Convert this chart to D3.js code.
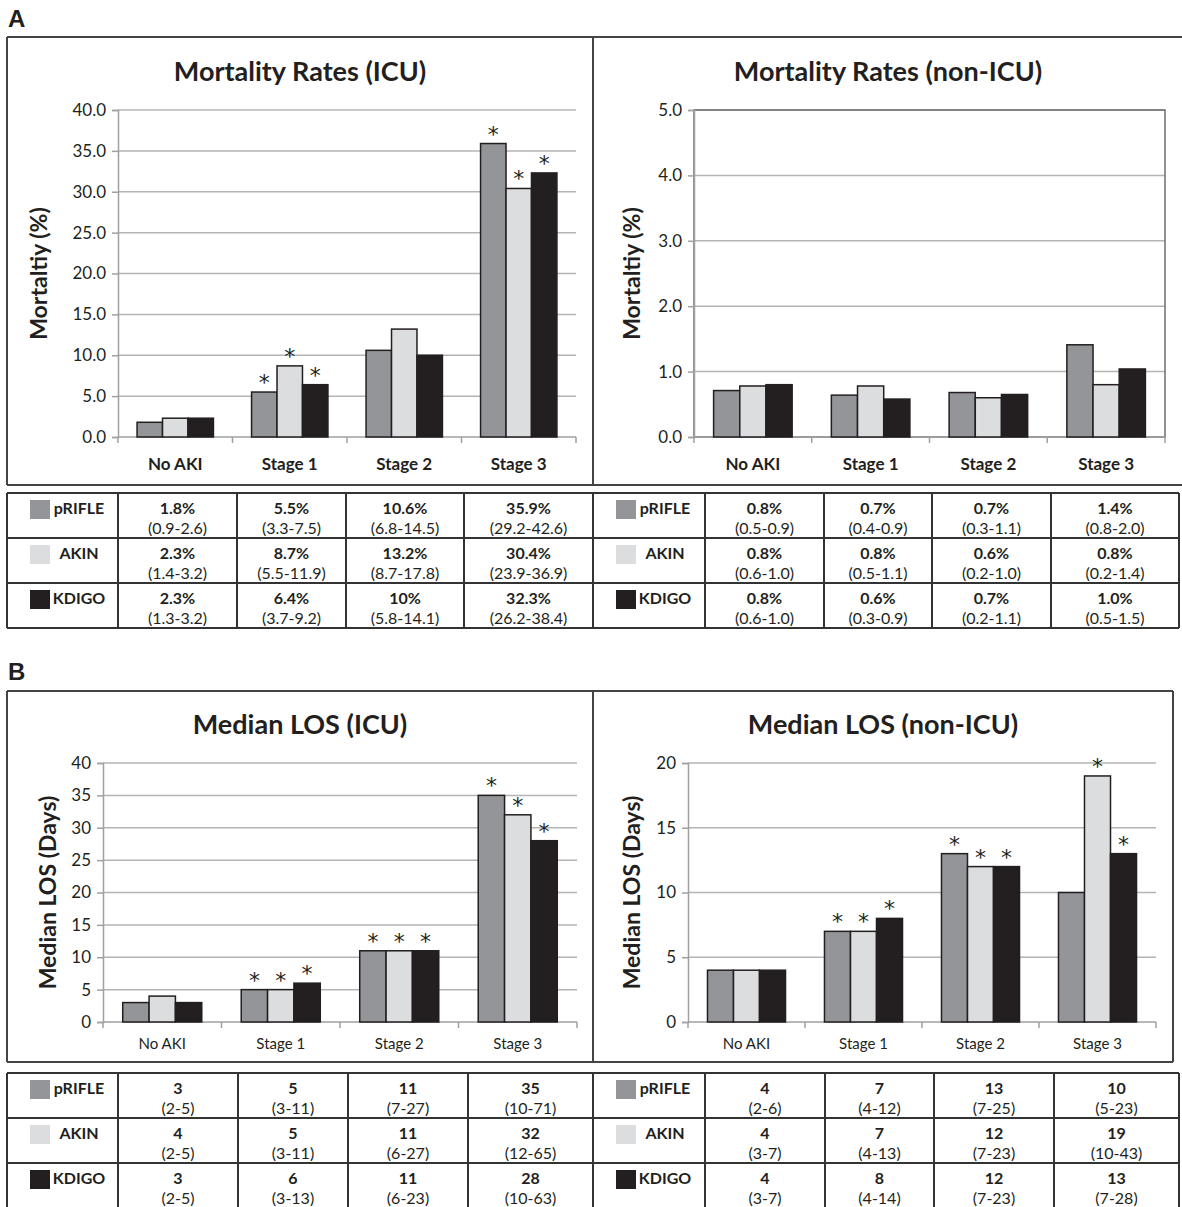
<!DOCTYPE html>
<html><head><meta charset="utf-8">
<script src="https://cdn.jsdelivr.net/npm/d3@7"></script>
<style>
body{margin:0;background:#fff;}
svg{display:block;font-family:Lato,"Open Sans",sans-serif;}
</style></head>
<body><svg id="c" width="1182" height="1207"></svg>
<script>
// ---------- DATA ----------
const categories = ["No AKI","Stage 1","Stage 2","Stage 3"];
const seriesNames = ["pRIFLE","AKIN","KDIGO"];
const seriesColors = ["#939598","#dcdddf","#231f20"];

// Mortality ICU (%)
const mortIcuPrifle = [1.8, 5.5, 10.6, 35.9];
const mortIcuAkin   = [2.3, 8.7, 13.2, 30.4];
const mortIcuKdigo  = [2.3, 6.4, 10.0, 32.3];
const mortIcuStar   = [[0,1,0,1],[0,1,0,1],[0,1,0,1]];
const mortIcuTicks  = [0,5,10,15,20,25,30,35,40];

// Mortality non-ICU (%) (bar heights)
const mortNonPrifle = [0.71, 0.64, 0.68, 1.41];
const mortNonAkin   = [0.78, 0.78, 0.60, 0.80];
const mortNonKdigo  = [0.80, 0.58, 0.65, 1.04];
const mortNonStar   = [[0,0,0,0],[0,0,0,0],[0,0,0,0]];
const mortNonTicks  = [0,1,2,3,4,5];

// Median LOS ICU (days)
const losIcuPrifle = [3, 5, 11, 35];
const losIcuAkin   = [4, 5, 11, 32];
const losIcuKdigo  = [3, 6, 11, 28];
const losIcuStar   = [[0,1,1,1],[0,1,1,1],[0,1,1,1]];
const losIcuTicks  = [0,5,10,15,20,25,30,35,40];

// Median LOS non-ICU (days)
const losNonPrifle = [4, 7, 13, 10];
const losNonAkin   = [4, 7, 12, 19];
const losNonKdigo  = [4, 8, 12, 13];
const losNonStar   = [[0,1,1,0],[0,1,1,1],[0,1,1,1]];
const losNonTicks  = [0,5,10,15,20];

// Table texts
const mortIcuText = [["1.8%","5.5%","10.6%","35.9%"],["2.3%","8.7%","13.2%","30.4%"],["2.3%","6.4%","10%","32.3%"]];
const mortIcuCI   = [["(0.9-2.6)","(3.3-7.5)","(6.8-14.5)","(29.2-42.6)"],["(1.4-3.2)","(5.5-11.9)","(8.7-17.8)","(23.9-36.9)"],["(1.3-3.2)","(3.7-9.2)","(5.8-14.1)","(26.2-38.4)"]];
const mortNonText = [["0.8%","0.7%","0.7%","1.4%"],["0.8%","0.8%","0.6%","0.8%"],["0.8%","0.6%","0.7%","1.0%"]];
const mortNonCI   = [["(0.5-0.9)","(0.4-0.9)","(0.3-1.1)","(0.8-2.0)"],["(0.6-1.0)","(0.5-1.1)","(0.2-1.0)","(0.2-1.4)"],["(0.6-1.0)","(0.3-0.9)","(0.2-1.1)","(0.5-1.5)"]];
const losIcuText  = [["3","5","11","35"],["4","5","11","32"],["3","6","11","28"]];
const losIcuCI    = [["(2-5)","(3-11)","(7-27)","(10-71)"],["(2-5)","(3-11)","(6-27)","(12-65)"],["(2-5)","(3-13)","(6-23)","(10-63)"]];
const losNonText  = [["4","7","13","10"],["4","7","12","19"],["4","8","12","13"]];
const losNonCI    = [["(2-6)","(4-12)","(7-25)","(5-23)"],["(3-7)","(4-13)","(7-23)","(10-43)"],["(3-7)","(4-14)","(7-23)","(7-28)"]];

// ---------- DRAW ----------
const svg = d3.select("#c");
const INK = "#231f20";

function chart(o){
  const g = svg.append("g");
  const x = d3.scaleBand().domain(categories).range([o.x0,o.x1]).paddingInner(0.333).paddingOuter(0.1665);
  const xs = d3.scaleBand().domain(seriesNames).range([0,x.bandwidth()]);
  const y = d3.scaleLinear().domain([0,o.max]).range([o.yb,o.yt]);
  g.append("g").selectAll("line").data(o.ticks.filter(t=>t>0)).join("line")
    .attr("x1",o.x0).attr("x2",o.x1).attr("y1",d=>y(d)).attr("y2",d=>y(d))
    .attr("stroke","#b4b4b4").attr("stroke-width",1.5);
  if(o.box){
    g.append("rect").attr("x",o.x0).attr("y",o.yt).attr("width",o.x1-o.x0).attr("height",o.yb-o.yt)
      .attr("fill","none").attr("stroke","#6d6e71").attr("stroke-width",1.5);
  }
  const ya = d3.axisLeft(y).tickValues(o.ticks).tickSize(6).tickPadding(6).tickFormat(o.fmt);
  const yg = g.append("g").attr("transform",`translate(${o.x0},0)`).call(ya);
  yg.select(".domain").attr("stroke","#a0a0a0").attr("stroke-width",1.5);
  yg.selectAll(".tick line").attr("stroke","#a0a0a0").attr("stroke-width",1.5);
  yg.selectAll(".tick text").attr("fill",INK).style("font-size",o.tickFont+"px").style("font-family","Lato");
  const edges = categories.map(c=>x(c)-x.step()*x.paddingInner()/2);
  edges.push(o.x1);
  g.append("line").attr("x1",o.x0).attr("x2",o.x1).attr("y1",o.yb).attr("y2",o.yb).attr("stroke","#a0a0a0").attr("stroke-width",1.5);
  g.append("g").selectAll("line").data(edges).join("line")
    .attr("x1",d=>d).attr("x2",d=>d).attr("y1",o.yb).attr("y2",o.yb+6).attr("stroke","#a0a0a0").attr("stroke-width",1.5);
  g.append("g").selectAll("text").data(categories).join("text")
    .attr("x",d=>x(d)+x.bandwidth()/2).attr("y",o.catY).attr("text-anchor","middle")
    .attr("dominant-baseline","central").attr("fill",INK)
    .style("font-size",o.catFont+"px").style("font-weight",o.catBold?"bold":"normal").text(d=>d);
  o.values.forEach((vals,si)=>{
    const sg = g.append("g");
    sg.selectAll("rect").data(vals).join("rect")
      .attr("x",(d,i)=>x(categories[i])+xs(seriesNames[si]))
      .attr("y",d=>y(d)).attr("width",xs.bandwidth()).attr("height",d=>y(0)-y(d))
      .attr("fill",seriesColors[si]).attr("stroke",INK).attr("stroke-width",1.5);
    sg.selectAll("text").data(vals.map((v,i)=>({v,i,s:o.stars[si][i]})).filter(d=>d.s)).join("text")
      .attr("x",d=>x(categories[d.i])+xs(seriesNames[si])+xs.bandwidth()/2)
      .attr("y",d=>y(d.v)-2).attr("text-anchor","middle").attr("fill",INK)
      .style("font-size","22px").style("font-family","DejaVu Sans").text("*");
  });
  g.append("text").attr("x",o.titleX).attr("y",o.titleY).attr("text-anchor","middle").attr("dominant-baseline","central")
    .attr("fill",INK).style("font-size","27px").style("font-weight","bold").text(o.title);
  g.append("text").attr("transform",`translate(${o.ytX},${(o.yt+o.yb)/2}) rotate(-90)`)
    .attr("text-anchor","middle").attr("dominant-baseline","central").attr("fill",INK)
    .style("font-size","23px").style("font-weight","bold").text(o.ytitle);
}

function table(o){
  const g = svg.append("g");
  const rowH = 45;
  const cols = o.cols;
  g.append("g").selectAll("line").data(d3.range(4)).join("line")
    .attr("x1",cols[0]).attr("x2",cols[cols.length-1]).attr("y1",d=>o.top+d*rowH).attr("y2",d=>o.top+d*rowH)
    .attr("stroke","#333").attr("stroke-width",2);
  g.append("g").selectAll("line").data(cols).join("line")
    .attr("x1",d=>d).attr("x2",d=>d).attr("y1",o.top).attr("y2",o.top+3*rowH)
    .attr("stroke","#333").attr("stroke-width",2);
  d3.range(3).forEach(r=>{
    const ty = o.top + r*rowH;
    g.append("rect").attr("x",cols[0]+23).attr("y",ty+7).attr("width",20).attr("height",19).attr("fill",seriesColors[r]);
    g.append("text").attr("x",cols[0]+72).attr("y",ty+14).attr("text-anchor","middle").attr("dominant-baseline","central")
      .attr("fill",INK).style("font-size","16px").style("font-weight","bold").text(seriesNames[r]);
    g.append("g").selectAll("text").data(o.text[r]).join("text")
      .attr("x",(d,i)=>(cols[i+1]+cols[i+2])/2).attr("y",ty+14).attr("text-anchor","middle").attr("dominant-baseline","central")
      .attr("fill",INK).style("font-size","16px").style("font-weight","bold").text(d=>d);
    g.append("g").selectAll("text").data(o.ci[r]).join("text")
      .attr("x",(d,i)=>(cols[i+1]+cols[i+2])/2).attr("y",ty+34).attr("text-anchor","middle").attr("dominant-baseline","central")
      .attr("fill",INK).style("font-size","16px").text(d=>d);
  });
}

function frame(top,bottom,right,drawRight){
  const g = svg.append("g").attr("stroke","#444").attr("stroke-width",2).attr("fill","none");
  g.append("line").attr("x1",7).attr("x2",right).attr("y1",top).attr("y2",top);
  g.append("line").attr("x1",7).attr("x2",right).attr("y1",bottom).attr("y2",bottom);
  g.append("line").attr("x1",7).attr("x2",7).attr("y1",top).attr("y2",bottom);
  g.append("line").attr("x1",593).attr("x2",593).attr("y1",top).attr("y2",bottom);
  if(drawRight) g.append("line").attr("x1",right).attr("x2",right).attr("y1",top).attr("y2",bottom);
}
frame(37,485,1182,false);
frame(691,1062,1173,true);

svg.append("text").attr("x",8).attr("y",27).attr("fill",INK).style("font-family","Liberation Sans").style("font-weight","bold").style("font-size","24px").text("A");
svg.append("text").attr("x",8).attr("y",680).attr("fill",INK).style("font-family","Liberation Sans").style("font-weight","bold").style("font-size","24px").text("B");

const f1 = d3.format(".1f"), f0 = d3.format("d");
chart({x0:118,x1:576,yt:110,yb:437,max:40,ticks:mortIcuTicks,fmt:f1,tickFont:17,catY:463,catFont:17,catBold:true,
  values:[mortIcuPrifle,mortIcuAkin,mortIcuKdigo],stars:mortIcuStar,title:"Mortality Rates (ICU)",titleX:300,titleY:70,
  ytitle:"Mortaltiy (%)",ytX:38});
chart({x0:694,x1:1165,yt:110,yb:437,max:5,ticks:mortNonTicks,fmt:f1,tickFont:17,catY:463,catFont:17,catBold:true,box:true,
  values:[mortNonPrifle,mortNonAkin,mortNonKdigo],stars:mortNonStar,title:"Mortality Rates (non-ICU)",titleX:888,titleY:70,
  ytitle:"Mortaltiy (%)",ytX:631});
chart({x0:103,x1:577,yt:763,yb:1022,max:40,ticks:losIcuTicks,fmt:f0,tickFont:17,catY:1043,catFont:15,catBold:false,
  values:[losIcuPrifle,losIcuAkin,losIcuKdigo],stars:losIcuStar,title:"Median LOS (ICU)",titleX:300,titleY:723,
  ytitle:"Median LOS (Days)",ytX:47});
chart({x0:688,x1:1156,yt:763,yb:1022,max:20,ticks:losNonTicks,fmt:f0,tickFont:17,catY:1043,catFont:15,catBold:false,
  values:[losNonPrifle,losNonAkin,losNonKdigo],stars:losNonStar,title:"Median LOS (non-ICU)",titleX:883,titleY:723,
  ytitle:"Median LOS (Days)",ytX:631});

table({cols:[7,118,237,346,464,593],top:493,text:mortIcuText,ci:mortIcuCI});
table({cols:[593,705,824,932,1051,1179],top:493,text:mortNonText,ci:mortNonCI});
table({cols:[7,118,238,348,468,593],top:1073,text:losIcuText,ci:losIcuCI});
table({cols:[593,705,825,934,1054,1179],top:1073,text:losNonText,ci:losNonCI});
</script></body></html>
